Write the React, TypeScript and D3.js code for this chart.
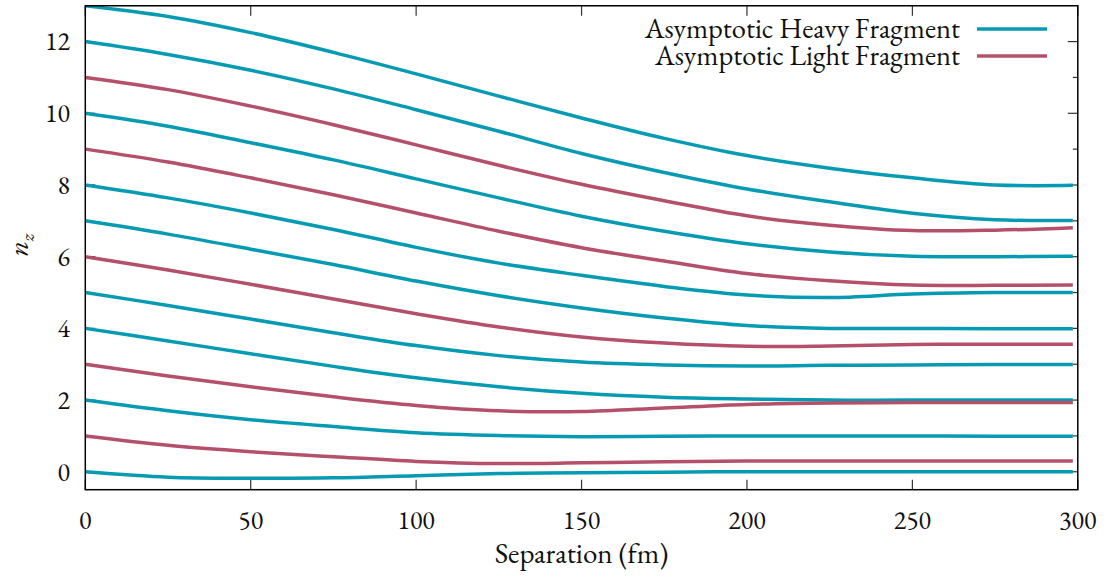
import React from "react";
import * as d3 from "d3";

// Separation (fm) sample points
const separation = [0, 25, 50, 75, 100, 125, 150, 175, 200, 225, 250, 275, 298.5];

// Asymptotic heavy fragment levels (n_z)
const heavy0 = [0, -0.15, -0.18, -0.17, -0.11, -0.05, -0.03, -0.01, 0, 0, 0, 0, 0];
const heavy2 = [2, 1.7, 1.45, 1.26, 1.09, 1.01, 0.98, 0.99, 1.0, 1.0, 1.0, 0.99, 0.99];
const heavy4 = [4, 3.65, 3.29, 2.94, 2.62, 2.37, 2.19, 2.08, 2.03, 2.0, 2.0, 2.0, 2.0];
const heavy5 = [5, 4.64, 4.26, 3.88, 3.52, 3.24, 3.06, 2.98, 2.95, 2.97, 2.98, 2.99, 2.99];
const heavy7 = [7, 6.63, 6.21, 5.78, 5.32, 4.91, 4.57, 4.29, 4.08, 4.0, 4.0, 3.99, 3.99];
const heavy8 = [8, 7.64, 7.22, 6.76, 6.26, 5.82, 5.48, 5.17, 4.93, 4.86, 4.96, 5.0, 5.0];
const heavy10 = [10, 9.64, 9.18, 8.7, 8.17, 7.64, 7.13, 6.71, 6.36, 6.13, 6.01, 6.0, 6.01];
const heavy12 = [12, 11.64, 11.2, 10.68, 10.1, 9.5, 8.88, 8.35, 7.89, 7.53, 7.21, 7.03, 7.01];
const heavy13 = [13, 12.7, 12.25, 11.7, 11.1, 10.48, 9.87, 9.3, 8.82, 8.47, 8.2, 8.0, 7.99];

// Asymptotic light fragment levels (n_z)
const light1 = [1, 0.74, 0.56, 0.42, 0.29, 0.23, 0.25, 0.28, 0.3, 0.3, 0.3, 0.3, 0.3];
const light3 = [3, 2.67, 2.37, 2.09, 1.85, 1.7, 1.68, 1.78, 1.88, 1.92, 1.93, 1.93, 1.93];
const light6 = [6, 5.63, 5.23, 4.82, 4.41, 4.04, 3.76, 3.59, 3.5, 3.51, 3.55, 3.56, 3.56];
const light9 = [9, 8.64, 8.2, 7.73, 7.22, 6.71, 6.25, 5.88, 5.53, 5.33, 5.21, 5.2, 5.21];
const light11 = [11, 10.66, 10.2, 9.68, 9.12, 8.55, 8.02, 7.56, 7.14, 6.88, 6.73, 6.74, 6.81];

const heavySeries = [heavy0, heavy2, heavy4, heavy5, heavy7, heavy8, heavy10, heavy12, heavy13];
const lightSeries = [light1, light3, light6, light9, light11];

const xTicks = [0, 50, 100, 150, 200, 250, 300];
const yMajorTicks = [0, 2, 4, 6, 8, 10, 12];
const yMinorTicks = [1, 3, 5, 7, 9, 11];
const legendLabels = ["Asymptotic Heavy Fragment", "Asymptotic Light Fragment"];

const W = 1109;
const H = 581;
const left = 85.3;
const right = 1077.8;
const top = 5.75;
const bottom = 489.7;

const HEAVY = "#069bb3";
const LIGHT = "#b5506b";
const FONT = '"EB Garamond"';

export default function App() {
  const x = d3.scaleLinear().domain([0, 300]).range([left, right]);
  const y = d3.scaleLinear().domain([-0.5, 13]).range([bottom, top]);
  const line = d3
    .line<[number, number]>()
    .x((d) => x(d[0]))
    .y((d) => y(d[1]))
    .curve(d3.curveCatmullRom.alpha(0.5));

  const toPts = (vals: number[]) => separation.map((s, i) => [s, vals[i]] as [number, number]);
  const ts = { fontFamily: FONT };

  return (
    <svg width={W} height={H} style={{ position: "absolute", left: 0, top: 0, background: "#fff" }}>
      <rect x={0} y={0} width={W} height={H} fill="#fff" />
      <defs>
        <clipPath id="plot">
          <rect x={left} y={top} width={right - left} height={bottom - top} />
        </clipPath>
      </defs>

      {xTicks.map((t) => (
        <g key={"xt" + t}>
          <line x1={x(t)} x2={x(t)} y1={bottom} y2={bottom - 10} stroke="#333" strokeWidth={1.2} />
          <line x1={x(t)} x2={x(t)} y1={top} y2={top + 10} stroke="#333" strokeWidth={1.2} />
          <text x={x(t)} y={bottom + 39} textAnchor="middle" fontSize={26} fill="#111" style={ts}>
            {t}
          </text>
        </g>
      ))}

      {yMajorTicks.map((t) => (
        <g key={"yt" + t}>
          <line x1={left} x2={left + 10} y1={y(t)} y2={y(t)} stroke="#333" strokeWidth={1.2} />
          <line x1={right} x2={right - 10} y1={y(t)} y2={y(t)} stroke="#333" strokeWidth={1.2} />
          <text x={70} y={y(t)} dy="0.34em" textAnchor="end" fontSize={26} fill="#111" style={ts}>
            {t}
          </text>
        </g>
      ))}
      {yMinorTicks.map((t) => (
        <g key={"ym" + t}>
          <line x1={left} x2={left + 5} y1={y(t)} y2={y(t)} stroke="#333" strokeWidth={1.2} />
          <line x1={right} x2={right - 5} y1={y(t)} y2={y(t)} stroke="#333" strokeWidth={1.2} />
        </g>
      ))}

      <g clipPath="url(#plot)" fill="none" strokeWidth={3.5} strokeLinecap="butt" strokeLinejoin="round">
        {heavySeries.map((s, i) => (
          <path key={"h" + i} d={line(toPts(s)) || ""} stroke={HEAVY} />
        ))}
        {lightSeries.map((s, i) => (
          <path key={"l" + i} d={line(toPts(s)) || ""} stroke={LIGHT} />
        ))}
      </g>

      <rect x={left} y={top} width={right - left} height={bottom - top} fill="none" stroke="#000" strokeWidth={1.5} />

      {legendLabels.map((lab, i) => (
        <g key={lab}>
          <text x={960} y={29 + i * 27} dy="0.3em" textAnchor="end" fontSize={28.5} fill="#111" style={ts}>
            {lab}
          </text>
          <line x1={977} x2={1047} y1={29 + i * 27} y2={29 + i * 27} stroke={i === 0 ? HEAVY : LIGHT} strokeWidth={3.5} />
        </g>
      ))}

      <text x={(left + right) / 2} y={563} textAnchor="middle" fontSize={29} fill="#111" style={ts}>
        Separation (fm)
      </text>
      <text
        transform="translate(28,245) rotate(-90)"
        textAnchor="middle"
        fontSize={29}
        fontStyle="italic"
        fill="#111"
        style={ts}
      >
        n<tspan fontSize={19} dy="6">z</tspan>
      </text>
    </svg>
  );
}
